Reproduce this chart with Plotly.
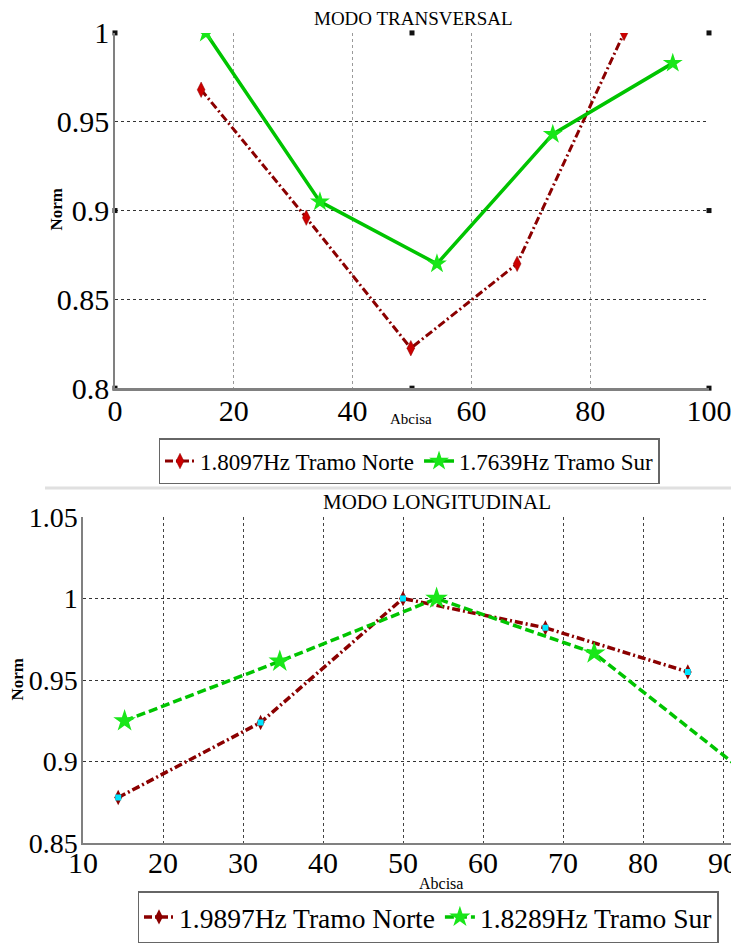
import plotly.graph_objects as go

# ---- data: MODO TRANSVERSAL ----
x_norte_t = [14.5, 32.2, 49.8, 67.7, 85.7]
y_norte_t = [0.968, 0.896, 0.8225, 0.870, 1.0]
x_sur_t = [15.3, 34.5, 54.2, 73.7, 93.9]
y_sur_t = [1.0, 0.905, 0.870, 0.943, 0.983]
# small square tick artifacts drawn on the top frame
frame_x = [0, 50, 100, 0, 100, 0, 50, 100]
frame_y = [1.0, 1.0, 1.0, 0.9, 0.9, 0.8, 0.8, 0.8]

# ---- data: MODO LONGITUDINAL ----
x_norte_l = [14.4, 32.2, 50.0, 67.8, 85.6]
y_norte_l = [0.878, 0.924, 1.0, 0.982, 0.955]
x_sur_l = [15.2, 34.6, 54.2, 73.9, 93.9]
y_sur_l = [0.925, 0.9615, 1.0, 0.9665, 0.889]

name_norte_t = "1.8097Hz Tramo Norte"
name_sur_t = "1.7639Hz Tramo Sur"
name_norte_l = "1.9897Hz Tramo Norte"
name_sur_l = "1.8289Hz Tramo Sur"

W, H = 731, 943
SERIF = "Liberation Serif"
DARKRED = "#8b0000"
RED = "#cc0000"
GREEN = "#00c400"
GREEN_M = "#19e619"
DASHDOT = "8px,3px,2px,3px"

fig = go.Figure()

fig.add_trace(go.Scatter(
    x=frame_x, y=frame_y, mode="markers", showlegend=False, hoverinfo="skip",
    marker=dict(symbol="square", color="#111111", size=5), cliponaxis=False,
    xaxis="x", yaxis="y"))
fig.add_trace(go.Scatter(
    x=x_norte_t, y=y_norte_t, name=name_norte_t, mode="lines+markers",
    line=dict(color=DARKRED, width=3, dash=DASHDOT),
    marker=dict(symbol="diamond-tall", color=RED, size=11, line=dict(color=DARKRED, width=0.5)),
    xaxis="x", yaxis="y", legend="legend"))
fig.add_trace(go.Scatter(
    x=x_sur_t, y=y_sur_t, name=name_sur_t, mode="lines+markers",
    line=dict(color=GREEN, width=3.5),
    marker=dict(symbol="star", color=GREEN_M, size=15, line=dict(width=0)),
    xaxis="x", yaxis="y", legend="legend"))

fig.add_trace(go.Scatter(
    x=x_norte_l, y=y_norte_l, name=name_norte_l, mode="lines+markers",
    line=dict(color=DARKRED, width=3.5, dash=DASHDOT),
    marker=dict(symbol="diamond-tall", color=DARKRED, size=11, line=dict(width=0)),
    xaxis="x2", yaxis="y2", legend="legend2"))
fig.add_trace(go.Scatter(
    x=x_norte_l, y=y_norte_l, mode="markers", showlegend=False, hoverinfo="skip",
    marker=dict(symbol="square", color="#00e5ff", size=6, line=dict(width=0)),
    xaxis="x2", yaxis="y2"))
fig.add_trace(go.Scatter(
    x=x_sur_l, y=y_sur_l, name=name_sur_l, mode="lines+markers",
    line=dict(color=GREEN, width=3.5, dash="9px,4px"),
    marker=dict(symbol="star", color=GREEN_M, size=17, line=dict(width=0)),
    xaxis="x2", yaxis="y2", legend="legend2"))

tickfont = dict(family=SERIF, size=30, color="black")
tickfont2 = dict(family=SERIF, size=28, color="black")

def px_x(a, b):
    return [a / W, b / W]

def px_y(top, bottom):
    return [1 - bottom / H, 1 - top / H]

fig.update_layout(
    width=W, height=H,
    margin=dict(l=0, r=0, t=0, b=0),
    paper_bgcolor="white", plot_bgcolor="white",
    font=dict(family=SERIF, color="black"),
    showlegend=True,
    xaxis=dict(domain=px_x(115, 709), range=[0, 100], dtick=20, tick0=0,
               showgrid=True, gridcolor="#9a9a9a", griddash="dot", gridwidth=1,
               showline=True, linecolor="#808080", linewidth=2.5, zeroline=False,
               ticks="", tickfont=tickfont, automargin=False, anchor="y",
               ticklabeloverflow="allow", ticklabelstandoff=-6),
    yaxis=dict(domain=px_y(33, 389), range=[0.8, 1.0], dtick=0.05, tick0=0.8,
               showgrid=True, gridcolor="#333333", griddash="dot", gridwidth=1,
               showline=True, linecolor="#808080", linewidth=1.5, zeroline=False,
               ticks="", tickfont=tickfont, tickformat="~g", automargin=False, anchor="x",
               ticklabeloverflow="allow", ticklabelstandoff=-2),
    xaxis2=dict(domain=px_x(83, 731), range=[10, 91], dtick=10, tick0=10,
                showgrid=True, gridcolor="#444444", griddash="dot", gridwidth=1,
                showline=True, linecolor="#808080", linewidth=2, zeroline=False,
                ticks="", tickfont=tickfont, automargin=False, anchor="y2",
                ticklabeloverflow="allow", ticklabelstandoff=-8),
    yaxis2=dict(domain=px_y(518, 845), range=[0.85, 1.05], dtick=0.05, tick0=0.85,
                showgrid=True, gridcolor="#333333", griddash="dot", gridwidth=1,
                showline=True, linecolor="#808080", linewidth=1.5, zeroline=False,
                ticks="", tickfont=tickfont2, tickformat="~g", automargin=False, anchor="x2",
                ticklabeloverflow="allow", ticklabelstandoff=-2),
    legend=dict(orientation="h", x=409 / W, xanchor="center", y=1 - 439 / H, yanchor="top",
                bordercolor="#666666", borderwidth=1.5, bgcolor="white",
                font=dict(family=SERIF, size=23, color="black"),
                itemwidth=30, tracegroupgap=0),
    legend2=dict(orientation="h", x=428 / W, xanchor="center", y=1 - 893 / H, yanchor="top",
                 bordercolor="#666666", borderwidth=1.5, bgcolor="white",
                 font=dict(family=SERIF, size=27.5, color="black"),
                 itemwidth=30, tracegroupgap=0),
)

annotations = [
    dict(text="MODO TRANSVERSAL", x=413 / W, y=1 - 19 / H, font=dict(size=19)),
    dict(text="MODO LONGITUDINAL", x=437 / W, y=1 - 503 / H, font=dict(size=21)),
    dict(text="Abcisa", x=411 / W, y=1 - 420 / H, font=dict(size=15)),
    dict(text="Abcisa", x=441 / W, y=1 - 885 / H, font=dict(size=16)),
    dict(text="<b>Norm</b>", x=57 / W, y=1 - 210 / H, font=dict(size=17), textangle=-90),
    dict(text="<b>Norm</b>", x=18 / W, y=1 - 681 / H, font=dict(size=17), textangle=-90),
]
for a in annotations:
    a.update(xref="paper", yref="paper", showarrow=False, xanchor="center", yanchor="middle")
    a["font"].update(family=SERIF, color="black")
fig.update_layout(annotations=annotations)

fig.add_shape(type="line", xref="paper", yref="paper",
              x0=45 / W, x1=1, y0=1 - 489 / H, y1=1 - 489 / H,
              line=dict(color="#e0e0e0", width=3))

fig.write_html("out.html")
